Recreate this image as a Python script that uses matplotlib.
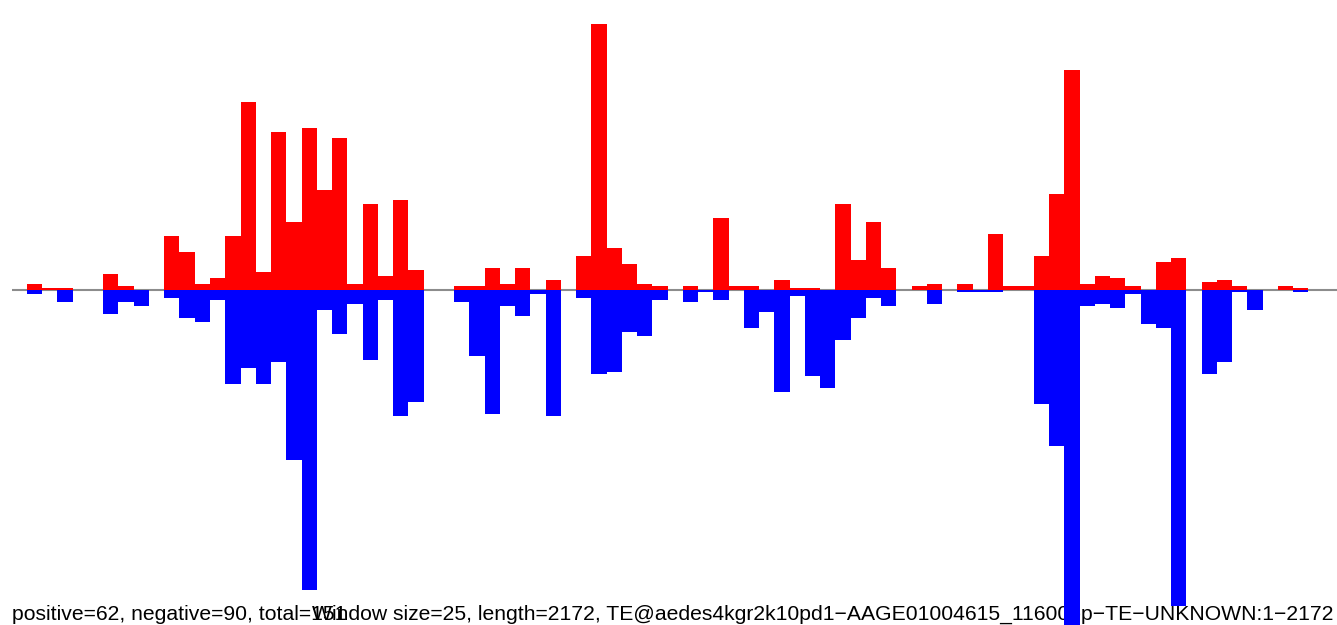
import numpy as np
import matplotlib
matplotlib.use("Agg")
import matplotlib.pyplot as plt

# strand counts per 25bp window
window = 25
length = 2172
pos_counts = [0, 3, 1, 1, 0, 0, 8, 2, 0, 0,
              27, 19, 3, 6, 27, 94, 9, 79, 34, 81,
              50, 76, 3, 43, 7, 45, 10, 0, 0, 2,
              2, 11, 3, 11, 0, 5, 0, 17, 133, 21,
              13, 3, 2, 0, 2, 0, 36, 2, 2, 0,
              5, 1, 1, 0, 43, 15, 34, 11, 0, 2,
              3, 0, 3, 0, 28, 2, 2, 17, 48, 110,
              3, 7, 6, 2, 0, 14, 16, 0, 4, 5,
              2, 0, 0, 2, 1, 0, 0]
neg_counts = [0, 2, 0, 6, 0, 0, 12, 6, 8, 0,
              4, 14, 16, 5, 47, 39, 47, 36, 85, 150,
              10, 22, 7, 35, 5, 63, 56, 0, 0, 6,
              33, 62, 8, 13, 2, 63, 0, 4, 42, 41,
              21, 23, 5, 0, 6, 1, 5, 0, 19, 11,
              51, 3, 43, 49, 25, 14, 4, 8, 0, 0,
              7, 0, 1, 1, 1, 0, 0, 57, 78, 170,
              8, 7, 9, 2, 17, 19, 158, 0, 42, 36,
              1, 10, 0, 0, 1, 0, 0]

summary = "positive=62, negative=90, total=151"
info = "Window size=25, length=2172, TE@aedes4kgr2k10pd1\u2212AAGE01004615_11600bp\u2212TE\u2212UNKNOWN:1\u22122172"

starts = np.arange(len(pos_counts)) * window

fig = plt.figure(figsize=(13.37, 6.25), dpi=100)
ax = fig.add_axes([11.7 / 1337, 0, 1 - 11.7 / 1337, 1])

# text sits under the bars, like in the original
ax.text(12 / 1337, 5 / 625, summary, transform=fig.transFigure,
        family="Liberation Sans", fontsize=15.2, va="baseline", ha="left", zorder=0)
ax.text(312 / 1337, 5 / 625, info, transform=fig.transFigure,
        family="Liberation Sans", fontsize=15.2, va="baseline", ha="left", zorder=0)

ax.axhline(0, color="#8c8c8c", lw=1.5, zorder=1)
ax.bar(starts, pos_counts, width=window, align="edge", color="#ff0000",
       linewidth=0, antialiased=False, zorder=2)
ax.bar(starts, -np.array(neg_counts), width=window, align="edge", color="#0000ff",
       linewidth=0, antialiased=False, zorder=2)

ax.set_xlim(0, length)
ax.set_ylim(-167.5, 145)
ax.axis("off")

fig.savefig("out.png", dpi=100)
